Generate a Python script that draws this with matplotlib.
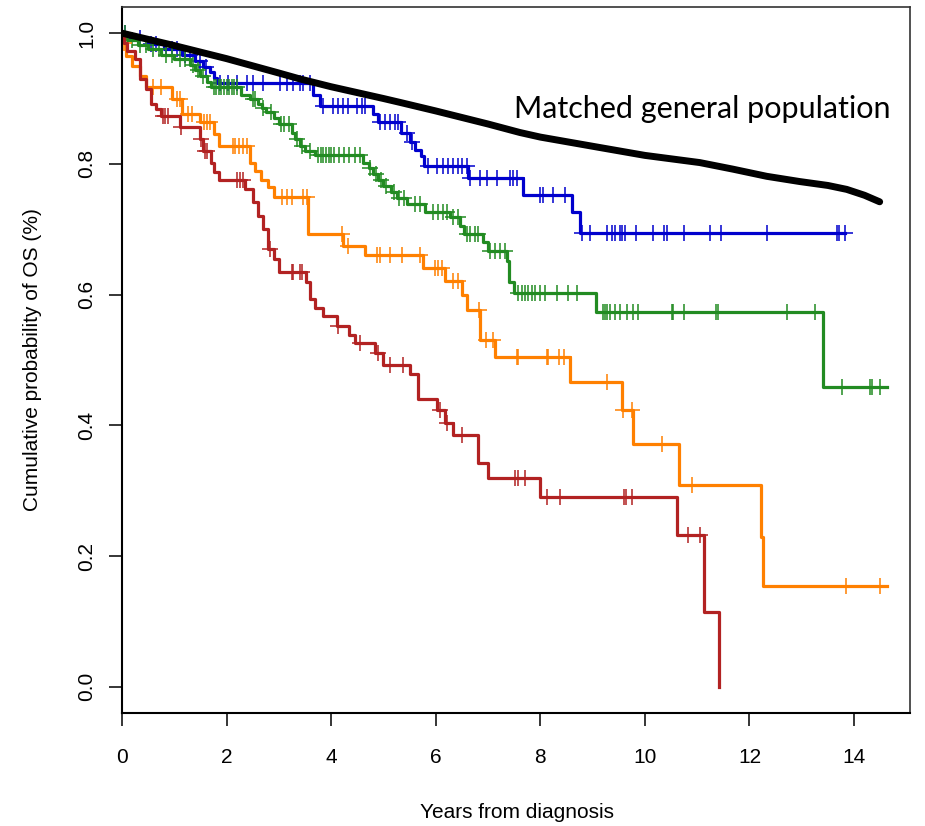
import numpy as np
import matplotlib
matplotlib.use("Agg")
import matplotlib.pyplot as plt

# matched general population (smooth expected survival)
gen_t = [0, 1, 2, 3, 3.4, 4, 5, 5.32, 6, 7, 7.61, 8, 9.14, 10, 11.05, 11.68, 12.33, 12.96, 13.5, 13.86, 14.2, 14.49]
gen_s = [1.0, 0.981, 0.961, 0.939, 0.930, 0.918, 0.900, 0.894, 0.881, 0.861, 0.848, 0.841, 0.825, 0.813, 0.802, 0.792, 0.781, 0.773, 0.767, 0.761, 0.752, 0.742]

# KM curves: drop times, level after drop, last follow-up, censor times
blue_t = [0.12, 0.5, 0.8, 1.15, 1.4, 1.55, 1.68, 1.76, 1.82, 3.65, 3.78, 4.8, 4.9, 5.33, 5.5, 5.6, 5.72, 5.78, 6.62, 7.67, 8.6, 8.76]
blue_s = [0.992, 0.983, 0.975, 0.967, 0.957, 0.948, 0.94, 0.932, 0.924, 0.905, 0.889, 0.876, 0.864, 0.848, 0.833, 0.822, 0.812, 0.797, 0.778, 0.753, 0.726, 0.694]
blue_end = 13.82
blue_cens = [0.06, 0.35, 0.55, 0.65, 0.85, 0.95, 1.05, 1.2, 1.3, 1.5, 1.6, 1.87, 2.03, 2.2, 2.39, 2.5, 2.7, 3.02, 3.15,
             3.27, 3.4, 3.46, 3.6, 3.85, 4.03, 4.13, 4.23, 4.32, 4.49, 4.59, 4.65, 4.93, 5.03, 5.12, 5.22, 5.28, 5.45,
             5.55, 5.85, 6.02, 6.14, 6.23, 6.33, 6.42, 6.5, 6.6, 6.65, 6.85, 6.98, 7.17, 7.42, 7.48, 7.55, 7.99, 8.05,
             8.24, 8.47, 8.8, 8.95, 9.27, 9.37, 9.43, 9.52, 9.56, 9.62, 9.83, 10.15, 10.36, 10.42, 10.75, 11.24, 11.45,
             12.33, 13.67, 13.71, 13.82]

green_t = [0.1, 0.3, 0.5, 0.75, 1.0, 1.3, 1.4, 1.5, 1.62, 1.7, 2.28, 2.45, 2.6, 2.68, 2.75, 2.9, 3.0, 3.25, 3.3, 3.4,
           3.5, 3.7, 4.6, 4.72, 4.8, 4.9, 5.0, 5.15, 5.25, 5.45, 5.8, 6.27, 6.46, 6.55, 6.9, 7.0, 7.36, 7.4, 7.5, 9.06, 13.4]
green_s = [0.99, 0.982, 0.975, 0.967, 0.96, 0.952, 0.944, 0.934, 0.926, 0.917, 0.906, 0.899, 0.892, 0.885, 0.879, 0.87,
           0.861, 0.848, 0.838, 0.827, 0.82, 0.813, 0.802, 0.793, 0.784, 0.775, 0.766, 0.757, 0.748, 0.738, 0.727, 0.718,
           0.705, 0.692, 0.68, 0.667, 0.651, 0.619, 0.602, 0.573, 0.459]
green_end = 14.63
green_cens = [0.05, 0.2, 0.35, 0.45, 0.6, 0.7, 0.85, 0.95, 1.1, 1.2, 1.35, 1.45, 1.55, 1.75, 1.8, 1.85, 1.9, 1.95, 2.0,
              2.05, 2.1, 2.15, 2.2, 2.5, 2.55, 2.7, 2.85, 3.05, 3.1, 3.2, 3.35, 3.45, 3.6, 3.75, 3.8, 3.85, 3.9, 3.95,
              4.0, 4.05, 4.15, 4.25, 4.35, 4.45, 4.55, 4.75, 4.85, 4.95, 5.05, 5.2, 5.3, 5.4, 5.6, 5.7, 5.95, 6.05, 6.14,
              6.21, 6.33, 6.43, 6.6, 6.66, 6.75, 6.8, 7.04, 7.13, 7.23, 7.32, 7.57, 7.65, 7.71, 7.76, 7.84, 7.9, 7.99,
              8.09, 8.32, 8.53, 8.7, 9.2, 9.24, 9.27, 9.33, 9.43, 9.52, 9.66, 9.77, 9.87, 10.52, 10.54, 10.75, 11.36,
              11.4, 12.72, 13.25, 13.77, 14.3, 14.34, 14.49]

orange_t = [0.03, 0.08, 0.2, 0.35, 0.45, 0.95, 1.15, 1.5, 1.75, 1.85, 2.45, 2.55, 2.65, 2.8, 2.9, 3.56, 4.23, 4.65,
            5.76, 6.18, 6.5, 6.6, 6.85, 7.13, 8.57, 9.56, 9.77, 10.65, 12.22, 12.26]
orange_s = [0.985, 0.965, 0.95, 0.935, 0.917, 0.9, 0.876, 0.864, 0.845, 0.827, 0.802, 0.789, 0.776, 0.764, 0.749,
            0.692, 0.674, 0.66, 0.641, 0.621, 0.6, 0.577, 0.531, 0.505, 0.467, 0.424, 0.371, 0.309, 0.23, 0.155]
orange_end = 14.63
orange_cens = [0.04, 0.6, 0.75, 1.05, 1.11, 1.27, 1.33, 1.56, 1.62, 1.68, 2.13, 2.16, 2.23, 2.32, 2.39, 3.06, 3.15,
               3.25, 3.46, 3.53, 4.2, 4.33, 4.87, 4.94, 5.12, 5.35, 5.69, 5.98, 6.05, 6.12, 6.33, 6.42, 6.82, 6.96,
               7.09, 7.55, 7.57, 8.13, 8.15, 8.36, 8.45, 9.28, 9.58, 9.75, 10.33, 10.9, 13.84, 14.49]

red_t = [0.03, 0.1, 0.25, 0.35, 0.45, 0.55, 0.65, 0.75, 1.1, 1.5, 1.55, 1.7, 1.75, 1.85, 2.35, 2.5, 2.6, 2.7, 2.8,
         2.9, 3.0, 3.52, 3.6, 3.7, 3.85, 4.11, 4.35, 4.45, 4.84, 5.0, 5.51, 5.66, 6.02, 6.18, 6.33, 6.81, 7.0, 7.99,
         10.61, 11.13, 11.42]
red_s = [0.985, 0.973, 0.96, 0.93, 0.914, 0.891, 0.884, 0.873, 0.856, 0.838, 0.819, 0.802, 0.787, 0.776, 0.761,
         0.741, 0.72, 0.7, 0.67, 0.654, 0.634, 0.62, 0.593, 0.58, 0.567, 0.552, 0.539, 0.526, 0.51, 0.493, 0.478,
         0.44, 0.423, 0.404, 0.386, 0.343, 0.32, 0.291, 0.233, 0.115, 0.0]
red_end = 11.42
red_cens = [0.78, 0.82, 0.88, 1.13, 1.52, 1.58, 1.63, 2.2, 2.25, 2.32, 2.83, 3.25, 3.27, 3.4, 3.44, 4.13, 4.55, 4.9,
            5.12, 5.37, 6.08, 6.21, 6.5, 7.51, 7.57, 7.7, 8.13, 8.37, 9.6, 9.64, 9.75, 10.82, 11.05]

curves = [
    (blue_t, blue_s, blue_end, blue_cens, "#0000CD"),
    (green_t, green_s, green_end, green_cens, "#228B22"),
    (orange_t, orange_s, orange_end, orange_cens, "#FF8000"),
    (red_t, red_s, red_end, red_cens, "#B22222"),
]

plt.rcParams['font.family'] = ['Liberation Sans', 'DejaVu Sans']

fig = plt.figure(figsize=(9.25, 8.26), dpi=100)
ax = fig.add_axes([122/925, 1 - 713/826, (910-122)/925, (713-7)/826])

for t, s, end, cens, col in curves:
    tt = np.array([0] + t + [end])
    ss = np.array([1.0] + s + [s[-1]])
    ax.step(tt, ss, where='post', color=col, lw=2.3, zorder=2)
    cens = np.array(cens)
    idx = np.searchsorted(tt, cens, side='right') - 1
    ax.plot(cens, ss[idx], ls='none', marker='+', ms=11, mew=1.1, color=col, zorder=2)

ax.plot(gen_t, gen_s, color='black', lw=5, solid_capstyle='round', zorder=3)
ax.text(11.1, 0.884, "Matched general population", family='Lato', fontsize=22,
        ha='center', va='center')

ax.set_xlim(0, 15.07)
ax.set_ylim(-0.04, 1.04)
ax.set_xticks(np.arange(0, 15, 2))
ax.set_yticks(np.arange(0, 1.01, 0.2))
ax.set_yticklabels([f"{v:.1f}" for v in np.arange(0, 1.01, 0.2)], rotation=90, va='center')
ax.tick_params(axis='x', length=9.5, width=1.1, labelsize=15, pad=16)
ax.tick_params(axis='y', length=9.5, width=1.1, labelsize=15, pad=9)
for side in ['left', 'bottom']:
    ax.spines[side].set_linewidth(1.5)
for side in ['top', 'right']:
    ax.spines[side].set_linewidth(1.2)
    ax.spines[side].set_color('#333333')

fig.text(517/925, 1 - 813/826, "Years from diagnosis", fontsize=15, ha='center', va='center')
fig.text(33/925, 1 - 360/826, "Cumulative probability of OS (%)", fontsize=15, ha='center', va='center', rotation=90)

fig.savefig("out.png", dpi=100)
